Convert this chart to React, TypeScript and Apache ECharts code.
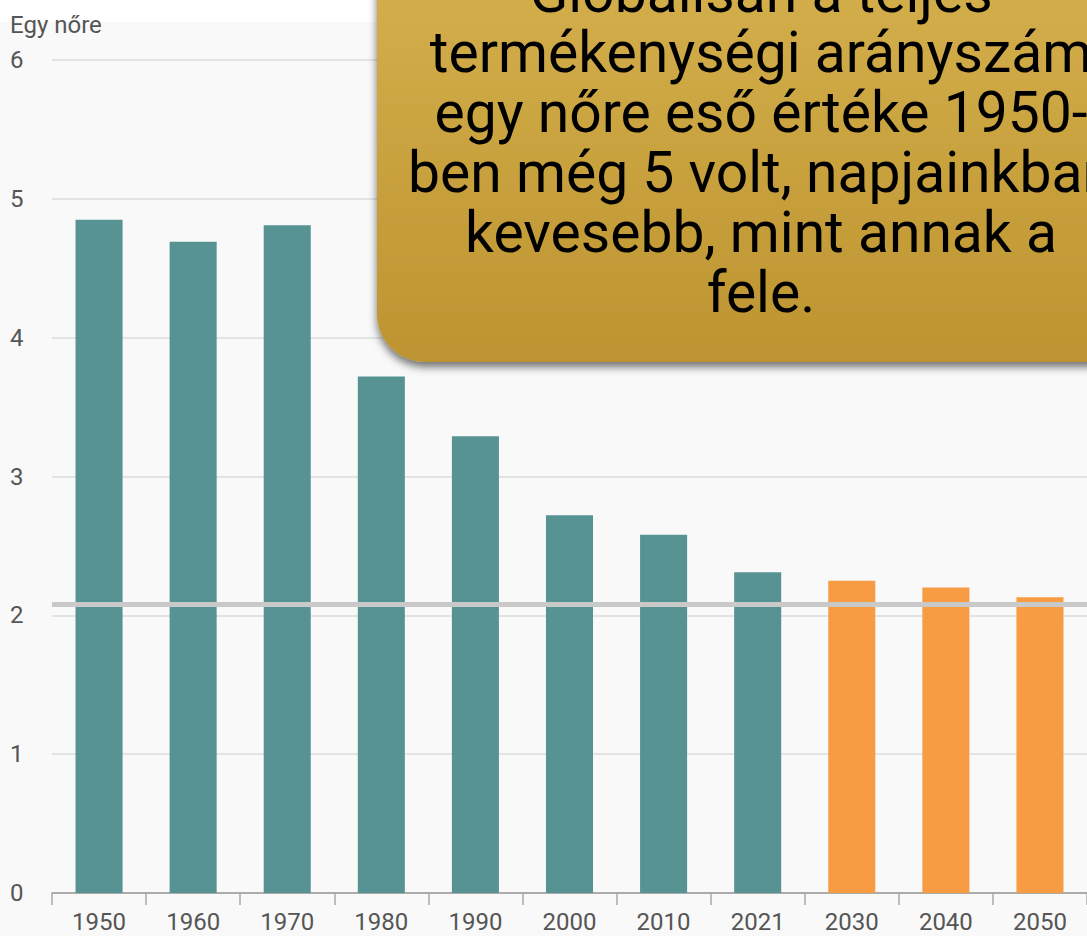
import React, { useEffect, useRef } from "react";
import * as echarts from "echarts";

const years = ["1950", "1960", "1970", "1980", "1990", "2000", "2010", "2021", "2030", "2040", "2050"];
const historical = [4.85, 4.69, 4.81, 3.72, 3.29, 2.72, 2.58, 2.31, null, null, null];
const projected = [null, null, null, null, null, null, null, null, 2.25, 2.2, 2.13];
const replacementLevel = 2.08;
const yAxisTitle = "Egy nőre";
const calloutLines = [
  "Globálisan a teljes",
  "termékenységi arányszám",
  "egy nőre eső értéke 1950-",
  "ben még 5 volt, napjainkban",
  "kevesebb, mint annak a",
  "fele.",
];

export default function App() {
  const ref = useRef<HTMLDivElement>(null);
  useEffect(() => {
    if (!ref.current) return;
    const chart = echarts.init(ref.current, null, { renderer: "svg" });
    chart.setOption({
      animation: false,
      backgroundColor: "#f9f9f9",
      grid: { left: 52, right: 0, top: 60, bottom: 43 },
      xAxis: {
        type: "category",
        data: years,
        axisLine: { lineStyle: { color: "#9a9a9a", width: 1.5 } },
        axisTick: { show: true, length: 12, lineStyle: { color: "#a8a8a8", width: 1.5 } },
        axisLabel: { color: "#555", fontFamily: "Roboto", fontSize: 24, margin: 17 },
      },
      yAxis: {
        type: "value",
        min: 0,
        max: 6,
        interval: 1,
        axisLine: { show: false },
        axisTick: { show: false },
        splitLine: { lineStyle: { color: "#e3e3e3", width: 2 } },
        axisLabel: {
          color: "#555",
          fontFamily: "Roboto",
          fontSize: 24,
          align: "left",
          margin: 42,
        },
      },
      series: [
        {
          type: "bar",
          data: historical,
          barWidth: "50%",
          barGap: "-100%",
          itemStyle: { color: "#579393" },
          z: 2,
        },
        {
          type: "bar",
          data: projected,
          barWidth: "50%",
          itemStyle: { color: "#f79c42" },
          z: 2,
          markLine: {
            silent: true,
            symbol: "none",
            label: { show: false },
            lineStyle: { color: "#c9c9c9", width: 5, type: "solid" },
            data: [{ yAxis: replacementLevel }],
            z: 5,
          },
        },
      ],
      graphic: [
        {
          type: "rect",
          shape: { x: 0, y: 0, width: 1087, height: 22 },
          style: { fill: "#ffffff" },
          z: -1,
          silent: true,
        },
        {
          type: "text",
          x: 10,
          y: 25,
          style: {
            text: yAxisTitle,
            fill: "#555",
            font: "24px Roboto",
            textVerticalAlign: "middle",
          },
        },
        {
          type: "rect",
          z: 100,
          shape: { x: 377, y: -40, width: 760, height: 402, r: [0, 0, 0, 48] },
          style: {
            fill: new echarts.graphic.LinearGradient(0, 0, 0, 1, [
              { offset: 0, color: "#d4b04c" },
              { offset: 1, color: "#bd9430" },
            ]),
            shadowColor: "rgba(0,0,0,0.55)",
            shadowBlur: 8,
            shadowOffsetX: 0,
            shadowOffsetY: 5,
          },
        },
        {
          type: "text",
          z: 101,
          x: 761,
          y: -38,
          style: {
            text: calloutLines.join("\n"),
            fill: "#000",
            font: "57px Roboto",
            lineHeight: 60,
            align: "center",
            verticalAlign: "top",
          },
        },
      ],
    });
    return () => chart.dispose();
  }, []);
  return (
    <div
      ref={ref}
      style={{ position: "fixed", left: 0, top: 0, width: 1087, height: 936 }}
    />
  );
}
